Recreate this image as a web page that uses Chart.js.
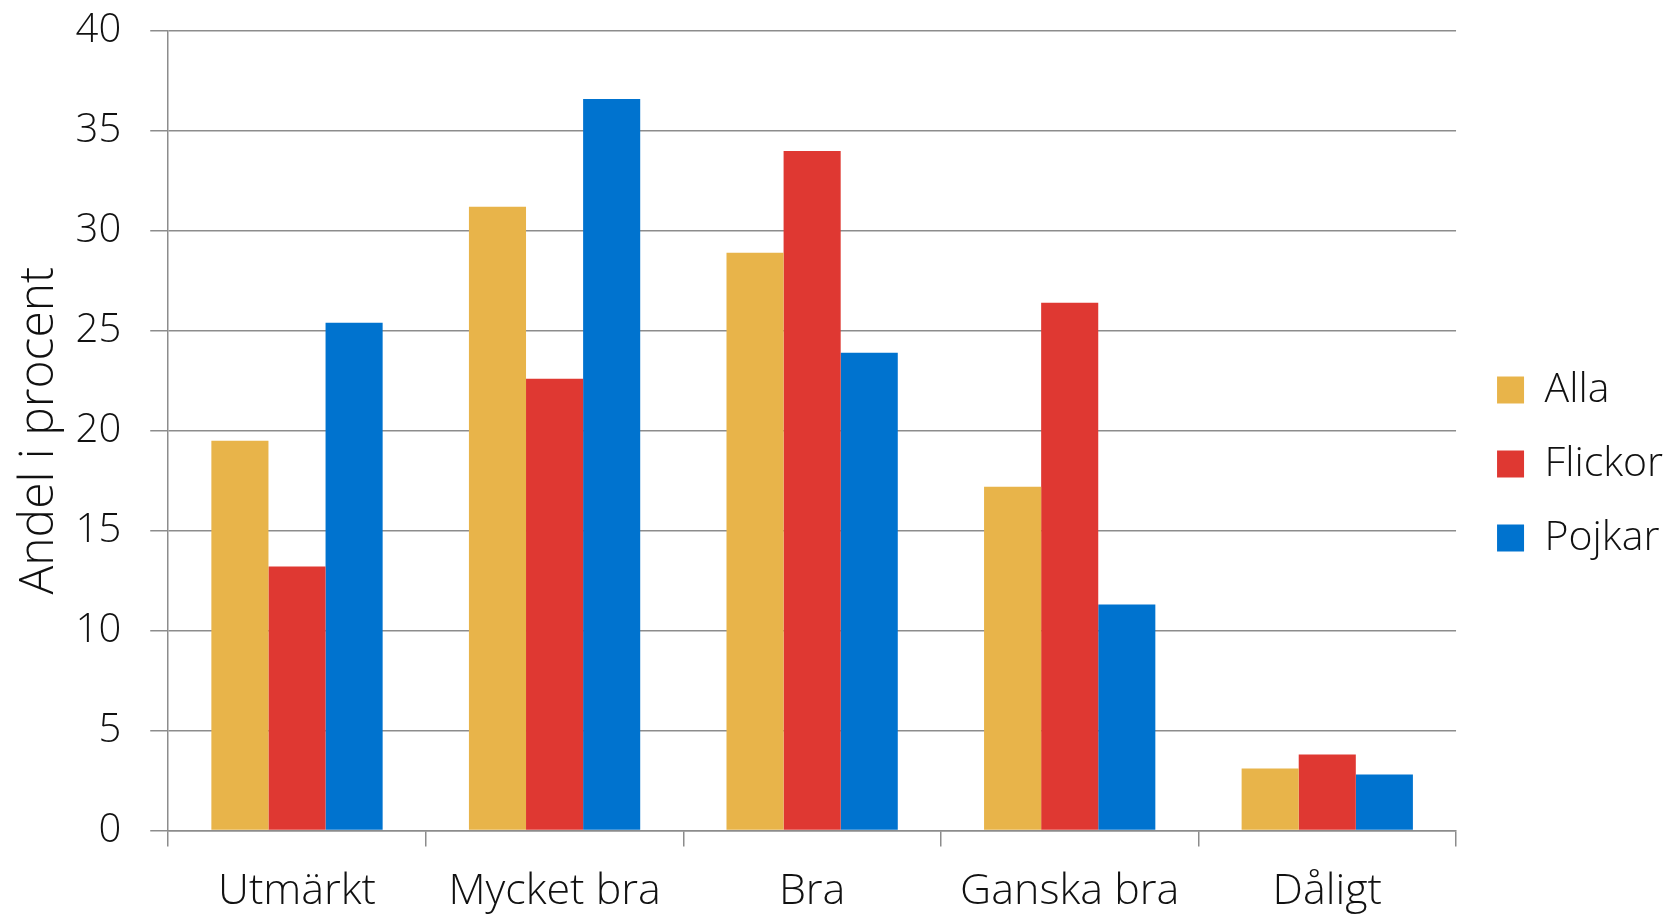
<!DOCTYPE html>
<html>
<head>
<meta charset="utf-8">
<script src="https://cdn.jsdelivr.net/npm/chart.js@4"></script>
<style>
  body { margin: 0; background: #fff; }
  #ram { width: 1673px; height: 917px; overflow: hidden; }
  canvas { display: block; }
</style>
</head>
<body>
<div id="ram"><canvas id="chart" width="1673" height="938"></canvas></div>
<script>
const kategorier = ['Utmärkt', 'Mycket bra', 'Bra', 'Ganska bra', 'Dåligt'];
const alla = [19.5, 31.2, 28.9, 17.2, 3.1];
const flickor = [13.2, 22.6, 34.0, 26.4, 3.8];
const pojkar = [25.4, 36.6, 23.9, 11.3, 2.8];

const typsnitt = "'Open Sans', 'Noto Sans', sans-serif";
const gra = '#8c8c8c';
const text = '#111';

function serie(label, data, farg) {
    return {
        label: label,
        data: data,
        backgroundColor: farg,
        borderWidth: 0,
        categoryPercentage: 0.665,
        barPercentage: 1
    };
}

// lite mer luft mellan diagrammet och legenden
const legendMarginal = {
    id: 'legendMarginal',
    beforeLayout(chart) {
        const legend = chart.legend;
        if (legend && !legend._extra) {
            const fit = legend.fit;
            legend.fit = function () {
                fit.call(this);
                this.width += 8;
            };
            legend._extra = true;
        }
    },
    afterLayout(chart) {
        const legend = chart.legend;
        legend.left += 8;
        legend.right += 8;
        legend.top -= 5;
        legend.bottom -= 5;
    }
};

new Chart(document.getElementById('chart'), {
    type: 'bar',
    data: {
        labels: kategorier,
        datasets: [
            serie('Alla', alla, '#E8B44A'),
            serie('Flickor', flickor, '#DF3832'),
            serie('Pojkar', pojkar, '#0073CF')
        ]
    },
    options: {
        responsive: false,
        animation: false,
        layout: { padding: { top: 0, bottom: 0, left: 2, right: 0 } },
        plugins: {
            tooltip: { enabled: false },
            legend: {
                position: 'right',
                labels: {
                    boxWidth: 27,
                    boxHeight: 27,
                    padding: 33,
                    color: text,
                    font: { family: typsnitt, size: 41, weight: 300 }
                }
            }
        },
        scales: {
            x: {
                grid: {
                    offset: true,
                    drawOnChartArea: false,
                    drawTicks: true,
                    tickLength: 16,
                    color: gra,
                    lineWidth: 1.5
                },
                border: { display: true, color: gra, width: 1.5 },
                ticks: {
                    color: text,
                    padding: 20,
                    font: { family: typsnitt, size: 43, weight: 300 }
                }
            },
            y: {
                min: 0,
                max: 40,
                ticks: {
                    stepSize: 5,
                    color: text,
                    padding: 29,
                    font: { family: typsnitt, size: 40, weight: 300, lineHeight: 0.1 }
                },
                grid: {
                    color: gra,
                    lineWidth: 1.5,
                    tickLength: 18
                },
                border: { display: true, color: gra, width: 1.5 },
                title: {
                    display: true,
                    text: 'Andel i procent',
                    color: text,
                    padding: { top: 32, bottom: 2 },
                    font: { family: typsnitt, size: 48, weight: 300, lineHeight: 0.22 }
                }
            }
        }
    },
    plugins: [legendMarginal]
});
</script>
</body>
</html>
